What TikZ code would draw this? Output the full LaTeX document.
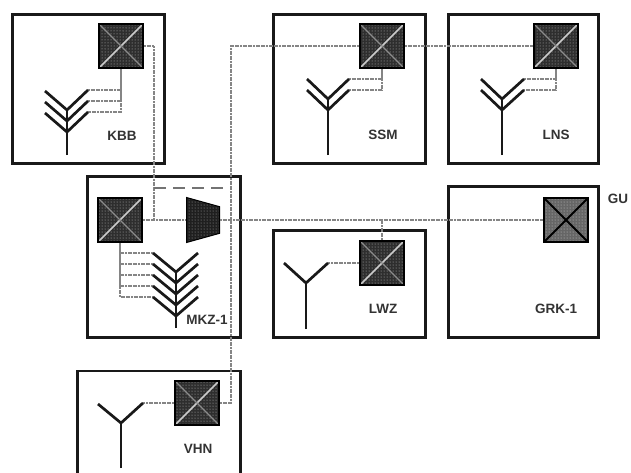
\documentclass[tikz,border=0pt]{standalone}
\usepackage{fontspec}
\setmainfont{Liberation Sans}
\usepackage{tikz}
\usetikzlibrary{positioning,calc,shapes.geometric,patterns}
\tikzset{
  site/.style={draw=black!90, fill=white, line width=2.1pt, inner sep=0pt},
  sw/.style={draw=black, preaction={fill=black!82}, pattern=dots, pattern color=black!25, line width=2pt, inner sep=0pt, minimum size=44pt,
    path picture={
      \draw[white!80!black, line width=1.6pt] (path picture bounding box.south west) -- (path picture bounding box.north east);
      \draw[black!45, line width=1.3pt] (path picture bounding box.north west) -- (path picture bounding box.south east);
    }},
  swl/.style={draw=black, preaction={fill=black!60}, pattern=dots, pattern color=black!20, line width=2pt, inner sep=0pt, minimum size=44pt,
    path picture={
      \draw[black, line width=2pt] (path picture bounding box.south west) -- (path picture bounding box.north east);
      \draw[black, line width=2pt] (path picture bounding box.north west) -- (path picture bounding box.south east);
    }},
  conv/.style={trapezium, draw=black, preaction={fill=black!88}, pattern=dots, pattern color=black!35, line width=1pt, inner sep=0pt, rotate=-90,
    trapezium stretches=true, minimum width=45pt, minimum height=33pt, trapezium angle=72},
  ant/.style={draw=black!90, line width=2.7pt},
  ln/.style={draw=black!48, line width=2.5pt, dash pattern=on 2pt off .6pt},
  lnd/.style={draw=black!55, line width=1.5pt, dash pattern=on 12pt off 7pt},
  lb/.style={font=\bfseries\fontsize{13.5}{15}\selectfont, text=black!80, inner sep=0pt},
}
\begin{document}
\begin{tikzpicture}[x=1pt,y=-1pt]
\clip (0,0) rectangle (631,472);
\fill[white] (0,0) rectangle (631,472);
\node[site, minimum width=152pt, minimum height=149pt] (kbb) at (88.5,89) {};
\node[site, minimum width=153pt, minimum height=161pt] (mkz) at (164,257) {};
\node[site, minimum width=163pt, minimum height=140pt] (vhn) at (159,441) {};
\node[site, minimum width=152pt, minimum height=149pt] (ssm) at (349.5,89) {};
\node[site, minimum width=150pt, minimum height=149pt] (lns) at (523.5,89) {};
\node[site, minimum width=152pt, minimum height=107pt] (lwz) at (349.5,284) {};
\node[site, minimum width=150pt, minimum height=151pt] (grk) at (523.5,262) {};
\node[sw] (kbbsw) at (121,46) {};
\node[sw] (mkzsw) at (120,220) {};
\node[sw] (ssmsw) at (382,46) {};
\node[sw] (lnssw) at (556,46) {};
\node[sw] (lwzsw) at (382,263) {};
\node[sw] (vhnsw) at (197,403) {};
\node[swl] (grksw) at (566,220) {};
\node[conv] (cv) at (203,220) {\phantom{x}};
\node[lb] at (122,136) {KBB};
\node[lb] at (207,320) {MKZ-1};
\node[lb] at (198,449) {VHN};
\node[lb] at (383,135) {SSM};
\node[lb] at (556,135) {LNS};
\node[lb] at (383,309) {LWZ};
\node[lb] at (556,309) {GRK-1};
\node[lb] at (618,199) {GU};
\coordinate (mj) at (154,220);
\coordinate (mt) at (154,188);
\coordinate (tt) at (231,46);
\coordinate (tm) at (231,188);
\coordinate (tb) at (231,403);
\coordinate (lj) at (382,220);
\coordinate (k1) at (88,90);
\coordinate (k2) at (88,101);
\coordinate (k3) at (88,112);
\coordinate (m1) at (153,253);
\coordinate (m2) at (153,264);
\coordinate (m3) at (153,275);
\coordinate (m4) at (153,286);
\coordinate (m5) at (153,297);
\coordinate (s1) at (349,79);
\coordinate (s2) at (349,90);
\coordinate (n1) at (524,79);
\coordinate (n2) at (524,90);
\coordinate (w1) at (328,263);
\coordinate (v1) at (143,403);
\draw[ln] (kbbsw.east) -| (mj);
\draw[ln] (mkzsw.east) -- (mj) -- (cv.bottom side);
\draw[lnd] (mt) -- (tm);
\draw[ln] (ssmsw.west) -- (tt) -- (tb) -- (vhnsw.east);
\draw[ln] (ssmsw.east) -- (lnssw.west);
\draw[ln] (cv.top side) -- (grksw.west);
\draw[ln] (lwzsw.north) -- (lj);
\draw[ln] (kbbsw.south) |- (k3);
\draw[ln] (k1) -| (kbbsw.south);
\draw[ln] (k2) -| (kbbsw.south);
\draw[ln] (mkzsw.south) |- (m5);
\draw[ln] (m1) -| (mkzsw.south);
\draw[ln] (m2) -| (mkzsw.south);
\draw[ln] (m3) -| (mkzsw.south);
\draw[ln] (m4) -| (mkzsw.south);
\draw[ln] (ssmsw.south) |- (s2);
\draw[ln] (s1) -| (ssmsw.south);
\draw[ln] (lnssw.south) |- (n2);
\draw[ln] (n1) -| (lnssw.south);
\draw[ln] (lwzsw.west) -- (w1);
\draw[ln] (vhnsw.west) -- (v1);
\draw[ant] (67,155) -- (67,110);
\draw[ant] (45,91) -- (67,110) -- (k1);
\draw[ant] (45,102) -- (67,121) -- (k2);
\draw[ant] (45,113) -- (67,132) -- (k3);
\draw[ant] (176,328) -- (176,272);
\draw[ant] (m1) -- (176,272) -- (198,253);
\draw[ant] (m2) -- (176,283) -- (198,264);
\draw[ant] (m3) -- (176,294) -- (198,275);
\draw[ant] (m4) -- (176,305) -- (198,286);
\draw[ant] (m5) -- (176,316) -- (198,297);
\draw[ant] (328,155) -- (328,99);
\draw[ant] (307,79) -- (328,99) -- (s1);
\draw[ant] (307,90) -- (328,110) -- (s2);
\draw[ant] (502,155) -- (502,99);
\draw[ant] (481,79) -- (502,99) -- (n1);
\draw[ant] (481,90) -- (502,110) -- (n2);
\draw[ant] (306,329) -- (306,283);
\draw[ant] (284,263) -- (306,283) -- (w1);
\draw[ant] (121,468) -- (121,423);
\draw[ant] (98,404) -- (121,423) -- (v1);
\end{tikzpicture}
\end{document}
